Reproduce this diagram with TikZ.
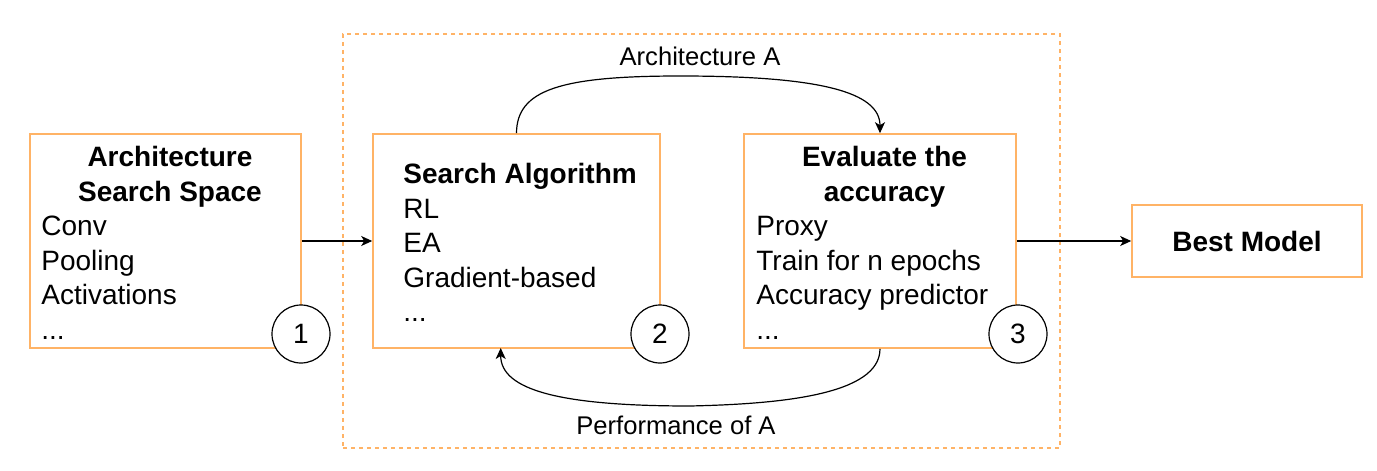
\documentclass[tikz,border=0pt]{standalone}
\usepackage{fontspec}
\setmainfont{Liberation Sans}
\usetikzlibrary{arrows.meta}
\definecolor{boxorange}{RGB}{255,179,102}
\tikzset{
  box/.style={draw=boxorange, line width=0.8pt, rectangle, inner sep=0pt},
  grp/.style={draw=boxorange, line width=0.7pt, dash pattern=on 2pt off 2pt, rectangle, inner sep=0pt},
  num/.style={draw=black, fill=white, circle, line width=0.6pt, minimum size=29pt, inner sep=0pt},
  txt/.style={inner sep=0pt, anchor=base west},
  ttl/.style={inner sep=0pt, anchor=base, font=\fontsize{14}{17.25}\selectfont\bfseries},
  elabel/.style={inner sep=0pt, anchor=base, font=\fontsize{12.8}{15}\selectfont},
  arr/.style={draw=black, line width=0.6pt, -{Stealth[length=5.5pt, width=5pt, inset=1.5pt]}},
}
\begin{document}
\begin{tikzpicture}[x=0.5pt, y=-0.5pt, every node/.style={font=\fontsize{14}{17.25}\selectfont}]
\useasboundingbox (0,0) rectangle (1377,471);
% group
\node[grp, minimum width=358.5pt, minimum height=207pt] (grp) at (701.5,241) {};
% boxes
\node[box, minimum width=135.5pt, minimum height=107pt] (b1) at (165.5,241) {};
\node[box, minimum width=143.5pt, minimum height=107pt] (b2) at (516.5,241) {};
\node[box, minimum width=136pt, minimum height=107pt] (b3) at (880,241) {};
\node[box, minimum width=115pt, minimum height=36pt, font=\fontsize{14}{17.25}\selectfont\bfseries] (b4) at (1247,241) {Best Model};
% box 1 text
\node[ttl] (t1a) at (170,166.5) {Architecture};
\node[ttl] (t1b) at (170,201) {Search Space};
\node[txt] (t1c) at (41,235.5) {Conv};
\node[txt] (t1d) at (41,270) {Pooling};
\node[txt] (t1e) at (41,304.5) {Activations};
\node[txt] (t1f) at (41,339) {...};
% box 2 text
\node[txt] (t2a) at (403,183.75) {\bfseries Search Algorithm};
\node[txt] (t2b) at (403,218.25) {RL};
\node[txt] (t2c) at (403,252.75) {EA};
\node[txt] (t2d) at (403,287.25) {Gradient-based};
\node[txt] (t2e) at (403,321.75) {...};
% box 3 text
\node[ttl] (t3a) at (884.5,166.5) {Evaluate the};
\node[ttl] (t3b) at (884.5,201) {accuracy};
\node[txt] (t3c) at (756,235.5) {Proxy};
\node[txt] (t3d) at (756,270) {Train for n epochs};
\node[txt] (t3e) at (756,304.5) {Accuracy predictor};
\node[txt] (t3f) at (756,339) {...};
% numbered circles
\node[num] (c1) at (301,334) {1};
\node[num] (c2) at (660,334) {2};
\node[num] (c3) at (1018,334) {3};
% connectors
\draw[arr] (b1.east) -- (b2.west);
\draw[arr] (b3.east) -- (b4.west);
\coordinate (p2) at (500.7,348);
\draw[arr] (b2.north) .. controls (516.7,90) and (560,76) .. (680,76)
  .. controls (820,76) and (880,92) .. (b3.north);
\draw[arr] (b3.south) .. controls (880,395) and (780,404) .. (690,406)
  .. controls (560,406) and (500.7,390) .. (p2);
% labels
\node[elabel] (la) at (700,65) {Architecture A};
\node[elabel] (lp) at (676,434) {Performance of A};
\end{tikzpicture}
\end{document}
